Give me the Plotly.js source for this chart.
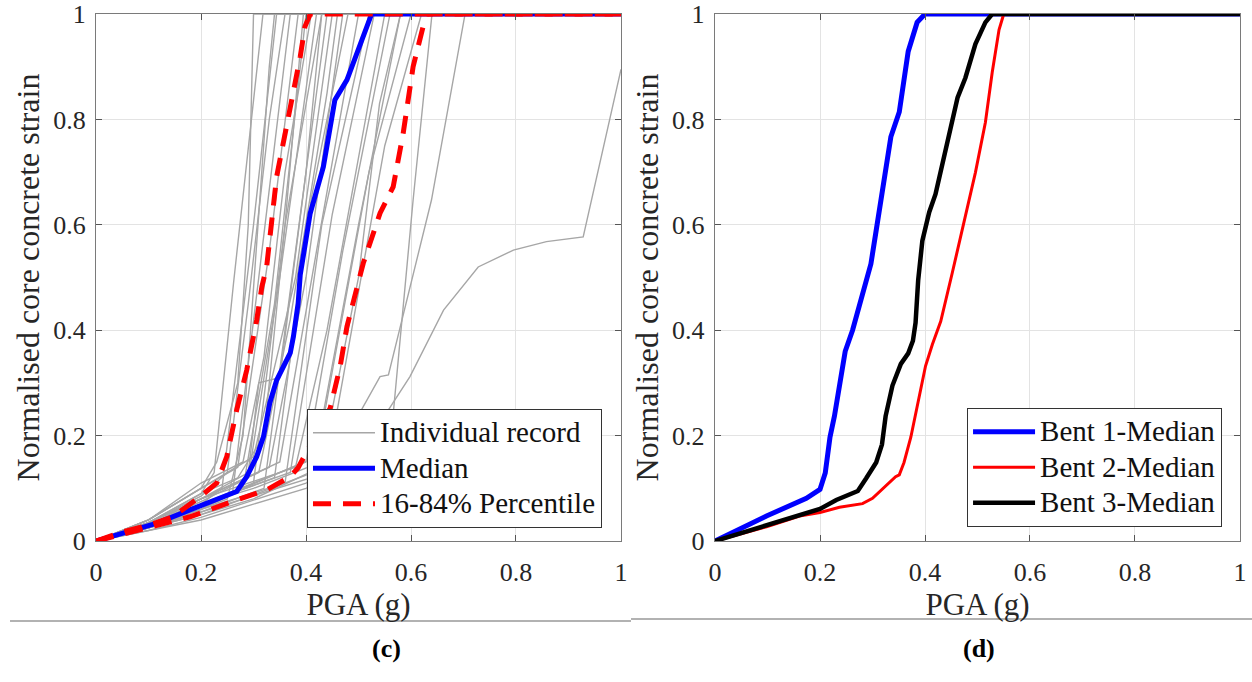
<!DOCTYPE html>
<html>
<head>
<meta charset="utf-8">
<script src="https://cdn.plot.ly/plotly-3.0.1.min.js"></script>
<style>html,body{margin:0;padding:0;background:#fff;}#chart{width:1252px;height:682px;}</style>
</head>
<body>
<div id="chart"></div>
<script>
// ---------- Panel (c): individual records (PGA, normalised strain) ----------
const recordPGA = [
  [0,0.1,0.2,0.225,0.262,0.318,1],
  [0,0.1,0.2,0.24,0.3,0.344,1],
  [0,0.1,0.2,0.25,0.29,0.33,0.36,1],
  [0,0.1,0.2,0.26,0.31,0.37,1],
  [0,0.1,0.2,0.27,0.33,0.385,1],
  [0,0.1,0.2,0.28,0.34,0.4,1],
  [0,0.1,0.2,0.28,0.32,0.36,0.41,1],
  [0,0.1,0.2,0.29,0.35,0.42,1],
  [0,0.1,0.2,0.3,0.36,0.43,1],
  [0,0.1,0.2,0.3,0.34,0.38,0.45,1],
  [0,0.1,0.2,0.31,0.37,0.44,0.46,1],
  [0,0.1,0.2,0.32,0.38,0.44,1],
  [0,0.1,0.2,0.33,0.4,0.47,1],
  [0,0.1,0.2,0.34,0.41,0.48,1],
  [0,0.1,0.2,0.35,0.42,0.5,1],
  [0,0.1,0.2,0.36,0.43,0.52,1],
  [0,0.1,0.2,0.37,0.45,0.53,1],
  [0,0.1,0.2,0.38,0.44,0.55,1],
  [0,0.1,0.2,0.4,0.47,0.56,1],
  [0,0.1,0.2,0.41,0.5,0.58,1],
  [0,0.1,0.2,0.42,0.52,0.6,1],
  [0,0.1,0.2,0.44,0.55,0.62,1],
  [0,0.1,0.2,0.3,0.45,0.541,0.557,0.639,0.703,1],
  [0,0.1,0.2,0.4,0.52,0.566,0.604,0.64,1],
  [0,0.1,0.2,0.3,0.4,0.5,0.557,0.598,0.662,0.728,0.795,0.858,0.928,1],
  [0,0.1,0.2,0.23,0.27,0.29,0.3,1],
  [0,0.1,0.2,0.29,0.31,0.35,0.4,0.43,1],
  [0,0.1,0.2,0.25,0.28,0.33,0.34,1],
  [0,0.1,0.2,0.3,0.43,0.46,0.5,0.54,0.58,1],
  [0,0.1,0.2,0.27,0.32,0.36,0.395,1]
];
const recordStrain = [
  [0,0.035,0.09,0.13,0.49,1,1],
  [0,0.03,0.07,0.1,0.6,1,1],
  [0,0.035,0.085,0.13,0.45,0.8,1,1],
  [0,0.025,0.06,0.09,0.5,1,1],
  [0,0.04,0.1,0.14,0.55,1,1],
  [0,0.03,0.065,0.1,0.45,1,1],
  [0,0.04,0.11,0.15,0.35,0.7,1,1],
  [0,0.03,0.075,0.12,0.5,1,1],
  [0,0.025,0.06,0.11,0.6,1,1],
  [0,0.04,0.1,0.16,0.33,0.5,1,1],
  [0,0.03,0.08,0.13,0.42,0.85,1,1],
  [0,0.025,0.055,0.1,0.55,1,1],
  [0,0.035,0.08,0.14,0.5,1,1],
  [0,0.03,0.07,0.12,0.65,1,1],
  [0,0.035,0.08,0.15,0.55,1,1],
  [0,0.025,0.06,0.11,0.6,1,1],
  [0,0.03,0.07,0.13,0.62,1,1],
  [0,0.035,0.08,0.14,0.4,1,1],
  [0,0.03,0.07,0.15,0.55,1,1],
  [0,0.025,0.055,0.12,0.6,1,1],
  [0,0.03,0.065,0.16,0.7,1,1],
  [0,0.025,0.05,0.14,0.75,1,1],
  [0,0.025,0.05,0.08,0.15,0.312,0.315,0.647,1,1],
  [0,0.02,0.045,0.11,0.18,0.24,0.647,1,1],
  [0,0.02,0.04,0.07,0.1,0.15,0.249,0.312,0.438,0.52,0.552,0.568,0.577,0.895],
  [0,0.04,0.1,0.15,0.3,0.6,1,1],
  [0,0.035,0.08,0.13,0.3,0.31,0.7,1,1],
  [0,0.03,0.06,0.08,0.2,0.9,1,1],
  [0,0.03,0.07,0.1,0.15,0.3,0.5,0.83,1,1],
  [0,0.035,0.09,0.12,0.2,0.6,1,1]
];

// Median and 16-84% percentiles (panel c)
const medianPGA    = [0,0.052,0.116,0.179,0.23,0.268,0.287,0.306,0.319,0.331,0.344,0.37,0.376,0.385,0.389,0.408,0.433,0.455,0.478,0.516,0.525,1];
const medianStrain = [0,0.015,0.034,0.059,0.078,0.094,0.122,0.16,0.198,0.262,0.305,0.357,0.388,0.451,0.505,0.622,0.71,0.837,0.875,0.976,1,1];
const p16PGA    = [0,0.05,0.1,0.147,0.198,0.23,0.249,0.268,0.287,0.306,0.316,0.325,0.344,0.37,0.389,0.398,0.408,1];
const p16Strain = [0,0.017,0.03,0.046,0.084,0.11,0.16,0.249,0.324,0.419,0.483,0.52,0.691,0.818,0.919,0.976,1,1];
const p84PGA    = [0,0.05,0.1,0.179,0.268,0.325,0.37,0.385,0.446,0.465,0.478,0.497,0.509,0.541,0.56,0.566,0.585,0.604,0.623,0.63,1];
const p84Strain = [0,0.013,0.025,0.046,0.078,0.097,0.122,0.139,0.252,0.331,0.407,0.483,0.527,0.622,0.66,0.672,0.773,0.9,0.976,1,1];

// ---------- Panel (d): bent medians ----------
const bent1PGA    = [0,0.098,0.174,0.2,0.21,0.219,0.2275,0.237,0.248,0.262,0.284,0.297,0.306,0.319,0.335,0.351,0.368,0.385,0.4,1];
const bent1Strain = [0,0.0475,0.081,0.098,0.129,0.197,0.237,0.292,0.36,0.4,0.475,0.526,0.583,0.672,0.767,0.814,0.929,0.984,1,1];
const bent2PGA    = [0,0.098,0.161,0.2,0.237,0.281,0.3,0.325,0.344,0.351,0.36,0.373,0.389,0.401,0.414,0.43,0.452,0.477,0.496,0.515,0.528,0.541,0.55,1];
const bent2Strain = [0,0.027,0.0475,0.054,0.064,0.071,0.081,0.105,0.122,0.1255,0.149,0.197,0.278,0.332,0.373,0.417,0.509,0.617,0.699,0.794,0.889,0.97,1,1];
const bent3PGA    = [0,0.098,0.161,0.2,0.231,0.25,0.272,0.288,0.307,0.318,0.325,0.338,0.354,0.368,0.377,0.382,0.387,0.395,0.408,0.42,0.439,0.452,0.462,0.477,0.496,0.515,0.528,1];
const bent3Strain = [0,0.0305,0.049,0.061,0.078,0.085,0.095,0.119,0.149,0.183,0.237,0.295,0.336,0.356,0.38,0.414,0.495,0.57,0.624,0.658,0.739,0.8,0.841,0.879,0.943,0.984,1,1];

const tickVals = [0,0.2,0.4,0.6,0.8,1];
const tickText = ['0','0.2','0.4','0.6','0.8','1'];
const xTitle = 'PGA (g)';
const yTitle = 'Normalised core concrete strain';
const legendLabelsC = ['Individual record','Median','16-84% Percentile'];
const legendLabelsD = ['Bent 1-Median','Bent 2-Median','Bent 3-Median'];
const panelLabels = ['(c)','(d)'];

const FONT = 'Liberation Serif, Times New Roman, serif';
const big = s => '<span style="font-size:29px">' + s + '</span>';
const traces = [];
recordPGA.forEach((xs,i)=>{
  traces.push({x:xs,y:recordStrain[i],type:'scatter',mode:'lines',xaxis:'x',yaxis:'y',
    line:{color:'#a6a6a6',width:1.4},name:big(legendLabelsC[0]),legendgroup:'rec',showlegend:i===0,legend:'legend'});
});
traces.push({x:medianPGA,y:medianStrain,type:'scatter',mode:'lines',xaxis:'x',yaxis:'y',cliponaxis:false,
  line:{color:'#0000ff',width:5},name:big(legendLabelsC[1]),legend:'legend'});
traces.push({x:p16PGA,y:p16Strain,type:'scatter',mode:'lines',xaxis:'x',yaxis:'y',cliponaxis:false,
  line:{color:'#ff0000',width:5,dash:'18px,12px'},name:big(legendLabelsC[2]),legendgroup:'pct',legend:'legend'});
traces.push({x:p84PGA,y:p84Strain,type:'scatter',mode:'lines',xaxis:'x',yaxis:'y',cliponaxis:false,
  line:{color:'#ff0000',width:5,dash:'18px,12px'},name:big(legendLabelsC[2]),legendgroup:'pct',showlegend:false,legend:'legend'});

traces.push({x:bent1PGA,y:bent1Strain,type:'scatter',mode:'lines',xaxis:'x2',yaxis:'y2',cliponaxis:false,
  line:{color:'#0000ff',width:5},name:big(legendLabelsD[0]),legend:'legend2'});
traces.push({x:bent2PGA,y:bent2Strain,type:'scatter',mode:'lines',xaxis:'x2',yaxis:'y2',cliponaxis:false,
  line:{color:'#ff0000',width:3},name:big(legendLabelsD[1]),legend:'legend2'});
traces.push({x:bent3PGA,y:bent3Strain,type:'scatter',mode:'lines',xaxis:'x2',yaxis:'y2',cliponaxis:false,
  line:{color:'#000000',width:4.5},name:big(legendLabelsD[2]),legend:'legend2'});

function xax(dom){
  return {domain:dom,range:[0,1],tickvals:tickVals,ticktext:tickText,ticks:'inside',ticklen:6,tickcolor:'#555',
    showline:true,linecolor:'#7a7a7a',linewidth:1.2,mirror:'ticks',showgrid:true,gridcolor:'#e3e3e3',zeroline:false,
    tickfont:{family:FONT,size:26,color:'#262626'},ticklabelstandoff:8,
    title:{text:xTitle,font:{family:FONT,size:31,color:'#262626'},standoff:3},fixedrange:true};
}
function yax(anchor){
  return {domain:[0.2067,0.9795],range:[0,1],tickvals:tickVals,ticktext:tickText,ticks:'inside',ticklen:6,tickcolor:'#555',
    showline:true,linecolor:'#7a7a7a',linewidth:1.2,mirror:'ticks',showgrid:true,gridcolor:'#e3e3e3',zeroline:false,
    tickfont:{family:FONT,size:26,color:'#262626'},ticklabelstandoff:4,anchor:anchor,
    title:{text:yTitle,font:{family:FONT,size:32,color:'#262626'},standoff:4},fixedrange:true};
}
const legStyle = {bgcolor:'#ffffff',bordercolor:'#333',borderwidth:1,font:{family:FONT,size:25,color:'#111'},
  xanchor:'left',yanchor:'top',itemwidth:62,tracegroupgap:0};

const layout = {
  width:1252,height:682,margin:{l:0,r:0,t:0,b:0},paper_bgcolor:'#fff',plot_bgcolor:'#fff',
  font:{family:FONT},
  xaxis:Object.assign(xax([0.0767,0.4960]),{anchor:'y'}),
  yaxis:yax('x'),
  xaxis2:Object.assign(xax([0.5711,0.9904]),{anchor:'y2'}),
  yaxis2:yax('x2'),
  legend:Object.assign({x:0.2452,y:0.4003},legStyle),
  legend2:Object.assign({x:0.7724,y:0.4018},legStyle),
  showlegend:true,
  annotations:[
    {text:'<b>'+panelLabels[0]+'</b>',xref:'paper',yref:'paper',x:0.2955,y:0.025,showarrow:false,font:{family:FONT,size:26,color:'#000'}},
    {text:'<b>'+panelLabels[1]+'</b>',xref:'paper',yref:'paper',x:0.7963,y:0.025,showarrow:false,font:{family:FONT,size:26,color:'#000'}}
  ],
  shapes:[
    {type:'line',xref:'paper',yref:'paper',x0:0.008,x1:0.504,y0:(682-621)/682,y1:(682-621)/682,line:{color:'#999',width:1.5}},
    {type:'line',xref:'paper',yref:'paper',x0:0.504,x1:1,y0:(682-619)/682,y1:(682-619)/682,line:{color:'#999',width:1.5}}
  ]
};
Plotly.newPlot('chart',traces,layout,{staticPlot:true});
</script>
</body>
</html>
